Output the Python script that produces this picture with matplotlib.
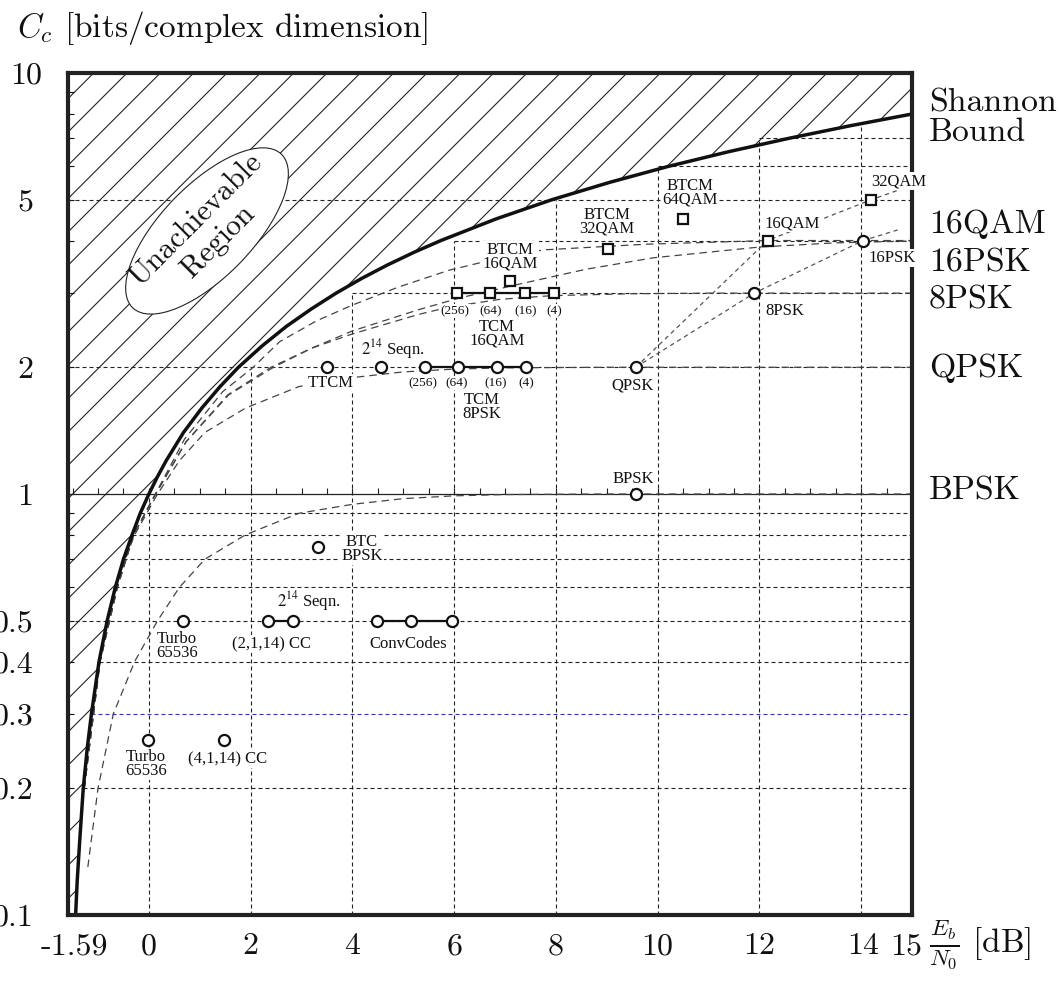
import numpy as np
import matplotlib
matplotlib.use("Agg")
import matplotlib.pyplot as plt
from matplotlib.patches import Ellipse
import matplotlib.transforms as mtransforms

plt.rcParams['mathtext.fontset'] = 'cm'
plt.rcParams['font.family'] = ['cmr10', 'DejaVu Serif']
plt.rcParams['hatch.linewidth'] = 0.4
plt.rcParams['axes.unicode_minus'] = False

# ---------------- data ----------------
# Shannon bound: Eb/N0 [dB] vs capacity [bits/complex dim]
shannon_ebn0 = [-1.44, -1.41, -1.36, -1.29, -1.21, -1.13, -0.98, -0.82, -0.66, -0.50,
                -0.33, -0.17, 0.00, 0.17, 0.34, 0.68, 1.04, 1.40, 1.76, 2.23, 2.70,
                3.19, 3.68, 4.18, 4.69, 5.21, 5.74, 6.82, 7.92, 9.06, 10.21, 11.39,
                12.59, 13.80, 15.00]
shannon_cap = [0.10, 0.12, 0.15, 0.20, 0.25, 0.30, 0.40, 0.50, 0.60, 0.70, 0.80, 0.90,
               1.00, 1.10, 1.20, 1.40, 1.60, 1.80, 2.00, 2.25, 2.50, 2.75, 3.00, 3.25,
               3.50, 3.75, 4.00, 4.50, 5.00, 5.50, 6.00, 6.50, 7.00, 7.50, 7.99]

# constellation constrained capacity curves (dashed)
bpsk_ebn0 = [-1.20, -1.00, -0.70, -0.28, 0.17, 0.60, 1.10, 1.90, 2.95, 4.00, 5.00, 6.00, 7.00, 9.00, 15.00]
bpsk_cap = [0.13, 0.20, 0.30, 0.40, 0.50, 0.60, 0.70, 0.80, 0.90, 0.945, 0.975, 0.99, 0.997, 1.00, 1.00]

qpsk_ebn0 = [-1.20, -0.97, -0.68, -0.28, 0.17, 0.60, 1.10, 1.90, 2.95, 4.00, 5.00, 6.00, 7.00, 9.00, 15.00]
qpsk_cap = [0.26, 0.40, 0.60, 0.80, 1.00, 1.20, 1.40, 1.60, 1.80, 1.89, 1.95, 1.98, 1.994, 2.00, 2.00]

psk8_ebn0 = [-1.27, -0.96, -0.62, -0.30, 0.09, 0.73, 1.55, 2.40, 3.20, 4.00, 5.30, 5.90, 6.90, 7.94, 9.50, 11.0, 15.0]
psk8_cap = [0.20, 0.40, 0.60, 0.80, 0.98, 1.33, 1.72, 2.00, 2.22, 2.40, 2.67, 2.78, 2.90, 2.96, 2.99, 3.0, 3.0]

psk16_ebn0 = [-1.27, -0.96, -0.62, -0.30, 0.09, 0.73, 1.57, 2.45, 3.20, 4.00, 5.30, 6.10, 7.37, 8.60, 9.92, 12.0, 13.5, 15.0]
psk16_cap = [0.20, 0.40, 0.60, 0.80, 0.98, 1.33, 1.72, 2.00, 2.22, 2.44, 2.74, 2.92, 3.17, 3.42, 3.64, 3.86, 3.95, 3.99]

qam16_ebn0 = [-1.27, -0.96, -0.62, -0.30, 0.09, 0.70, 1.45, 2.05, 2.57, 3.30, 4.00, 4.90, 5.90, 6.50, 7.75, 9.76, 12.16, 15.0]
qam16_cap = [0.20, 0.40, 0.60, 0.80, 0.98, 1.35, 1.75, 2.00, 2.30, 2.58, 2.81, 3.10, 3.40, 3.54, 3.80, 3.92, 4.0, 4.0]

# uncoded reference points joined by fine dashed lines
psk_path_ebn0 = [9.57, 11.90, 14.04, 14.75]
psk_path_cap = [2.0, 3.0, 4.0, 4.25]
qam_path_ebn0 = [9.57, 12.16, 14.20, 14.75]
qam_path_cap = [2.0, 4.0, 5.0, 5.28]

# coded systems
tcm8psk_ebn0 = [5.43, 6.08, 6.84, 7.41]
tcm8psk_cap = [2.0, 2.0, 2.0, 2.0]
tcm16qam_ebn0 = [6.06, 6.71, 7.39, 7.96]
tcm16qam_cap = [3.0, 3.0, 3.0, 3.0]
conv_ebn0 = [4.49, 5.16, 5.96]
conv_cap = [0.5, 0.5, 0.5]
cc2114_ebn0 = [2.35, 2.84]
cc2114_cap = [0.5, 0.5]

single_circ_ebn0 = [3.51, 4.57, 0.67, -0.02, 1.47, 3.33, 9.57, 9.57, 11.90, 14.04]
single_circ_cap = [2.0, 2.0, 0.5, 0.26, 0.26, 0.75, 2.0, 1.0, 3.0, 4.0]
single_sq_ebn0 = [7.10, 9.02, 10.50, 12.16, 14.20]
single_sq_cap = [3.2, 3.82, 4.5, 4.0, 5.0]

# grid
vgrid_x = [0, 2, 4, 6, 8, 10, 12, 14]
vgrid_top = [1, 2, 3, 4, 5, 6, 7, 7.55]
hgrid_cap = [0.2, 0.3, 0.4, 0.5, 0.6, 0.7, 0.8, 0.9, 2, 3, 4, 5, 6, 7]
hgrid_start = [-1.29, -1.13, -0.98, -1.59, -0.66, -0.50, -0.33, -0.17, -1.59, 4, 6, -1.59, 10, 12]

xtick_vals = [-1.59, 0, 2, 4, 6, 8, 10, 12, 14, 15]
xtick_labels = ['-1.59', '0', '2', '4', '6', '8', '10', '12', '14', '15']
ytick_vals = [0.1, 0.2, 0.3, 0.4, 0.5, 1, 2, 5, 10]
ytick_labels = ['0.1', '0.2', '0.3', '0.4', '0.5', '1', '2', '5', '10']
yminor_vals = [0.6, 0.7, 0.8, 0.9, 3, 4, 6, 7, 8, 9]

# ---------------- figure ----------------
W, H, DPI = 1061, 982, 200
fig = plt.figure(figsize=(W / DPI, H / DPI), dpi=DPI)
ax = fig.add_axes([68 / W, 1 - 915 / H, (912 - 68) / W, (915 - 73) / H])
ax.set_yscale('log')
ax.set_xlim(-1.59, 15)
ax.set_ylim(0.1, 10)

# hatched unachievable region
ax.fill_betweenx(shannon_cap + [10], -1.59, shannon_ebn0 + [15], facecolor='none',
                 edgecolor='#222222', linewidth=0, hatch='//', zorder=1)

# grid lines
gdash = (0, (3.6, 2.7))
ax.vlines(vgrid_x, 0.1, vgrid_top, colors='#222222', linestyles=gdash, linewidth=0.4, zorder=2)
hcols = ['#3333aa' if c == 0.3 else '#222222' for c in hgrid_cap]
ax.hlines(hgrid_cap, hgrid_start, 15, colors=hcols, linestyles=gdash, linewidth=0.4, zorder=2)
ax.hlines([1.0], -1.59, 15, colors='#222222', linewidth=0.45, zorder=2)
# small ticks along the C = 1 line
ax.vlines(np.arange(-1.5, 15, 0.5), 1.0, 1.035, colors='#222222', linewidth=0.4, zorder=2)

# capacity curves
cdash = (0, (6.0, 4.0))
for xs, cs in [(bpsk_ebn0, bpsk_cap), (qpsk_ebn0, qpsk_cap), (psk8_ebn0, psk8_cap),
               (psk16_ebn0, psk16_cap), (qam16_ebn0, qam16_cap)]:
    ax.plot(xs, cs, color='#444444', linestyle=cdash, linewidth=0.45, zorder=3)

fdash = (0, (3.5, 3.0))
ax.plot(psk_path_ebn0, psk_path_cap, color='#555555', linestyle=fdash, linewidth=0.45, zorder=3)
ax.plot(qam_path_ebn0, qam_path_cap, color='#555555', linestyle=fdash, linewidth=0.45, zorder=3)

# Shannon bound
ax.plot(shannon_ebn0, shannon_cap, color='#111111', linewidth=1.25, zorder=4,
        solid_capstyle='butt')

# ellipse with text
ell = Ellipse((0.1647, 0.8124), 0.2536, 0.109, angle=46, transform=ax.transAxes,
              facecolor='white', edgecolor='#222222', linewidth=0.4, zorder=5)
ax.add_patch(ell)
ax.text(0.1647, 0.8124, 'Unachievable\nRegion', transform=ax.transAxes, rotation=45,
        ha='center', va='center', fontsize=10.8, rotation_mode='anchor',
        linespacing=1.15, zorder=6, color='#111111')

# labels (figure pixel coordinates of the reference)
def ftxt(s, px, py, size=6.0, **kw):
    ax.text(px / W, 1 - py / H, s, transform=fig.transFigure, ha='center', va='center',
            fontsize=size, family='Liberation Serif', math_fontfamily='stix',
            linespacing=0.8, color='#111111', zorder=6, clip_on=False,
            bbox=dict(facecolor='white', edgecolor='none', pad=0.4), **kw)

small, tiny = 6.0, 4.8
ftxt('Turbo\n65536', 177, 646, small)
ftxt('(2,1,14) CC', 272, 644, small)
ftxt('$2^{14}$ Seqn.', 309, 601, small)
ftxt('ConvCodes', 408, 644, small)
ftxt('Turbo\n65536', 146, 764, small)
ftxt('(4,1,14) CC', 228, 759, small)
ftxt('BTC\nBPSK', 362, 549, small)
ftxt('TTCM', 331, 383, small)
ftxt('$2^{14}$ Seqn.', 393, 349, small)
for s, px in zip(['(256)', '(64)', '(16)', '(4)'], [423, 457, 496, 526]):
    ftxt(s, px, 383, tiny)
ftxt('TCM\n8PSK', 482, 407, small)
for s, px in zip(['(256)', '(64)', '(16)', '(4)'], [455, 491, 526, 554]):
    ftxt(s, px, 311, tiny)
ftxt('TCM\n16QAM', 497, 334, small)
ftxt('BTCM\n16QAM', 510, 257, small)
ftxt('BTCM\n32QAM', 607, 222, small)
ftxt('BTCM\n64QAM', 690, 193, small)
ftxt('16QAM', 792, 223, small)
ftxt('32QAM', 899, 181, small)
ftxt('16PSK', 892, 258, small)
ftxt('8PSK', 785, 311, small)
ftxt('QPSK', 633, 385, small)
ftxt('BPSK', 633, 479, small)

# connected coded systems and markers
mk = dict(markerfacecolor='white', markeredgecolor='#111111', markeredgewidth=0.8, zorder=8)
ax.plot(tcm8psk_ebn0, tcm8psk_cap, '-o', color='#111111', linewidth=0.8, markersize=4.0, **mk)
ax.plot(conv_ebn0, conv_cap, '-o', color='#111111', linewidth=0.8, markersize=4.0, **mk)
ax.plot(cc2114_ebn0, cc2114_cap, '-o', color='#111111', linewidth=0.8, markersize=4.0, **mk)
ax.plot(tcm16qam_ebn0, tcm16qam_cap, '-s', color='#111111', linewidth=0.8, markersize=3.3, **mk)
ax.plot(single_circ_ebn0, single_circ_cap, 'o', linestyle='none', markersize=4.0, **mk)
ax.plot(single_sq_ebn0, single_sq_cap, 's', linestyle='none', markersize=3.3, **mk)

# right side labels
for s, py in [('Shannon', 103), ('Bound', 132), ('16QAM', 224), ('16PSK', 263),
              ('8PSK', 300), ('QPSK', 368), ('BPSK', 491)]:
    fig.text(929 / W, 1 - py / H, s, ha='left', va='center', fontsize=12.2, color='#111111')

# axes frame and ticks
for sp in ax.spines.values():
    sp.set_linewidth(1.5)
    sp.set_color('#222222')
    sp.set_zorder(5.5)

ax.set_xticks(xtick_vals)
ax.set_xticklabels(xtick_labels)
ax.set_yticks(ytick_vals)
ax.set_yticklabels(ytick_labels)
ax.set_yticks(yminor_vals, minor=True)
ax.yaxis.set_minor_formatter(matplotlib.ticker.NullFormatter())
ax.xaxis.set_minor_locator(matplotlib.ticker.NullLocator())
ax.tick_params(axis='x', which='both', length=0, pad=6.5, labelsize=11.5, colors='#111111')
ax.tick_params(axis='y', which='both', direction='in', length=2.0, width=0.4,
               pad=12.6, labelsize=11.5, colors='#111111')

for lab, dx in zip(ax.get_xticklabels(), [6, 0, 0, 0, 0, 0, 0, 0, 2, -6]):
    lab.set_transform(lab.get_transform() + mtransforms.ScaledTranslation(dx / DPI, 0, fig.dpi_scale_trans))
for lab, dx in zip(ax.get_yticklabels(), [0, 0, 0, 0, 0, 0, 0, 0, 9]):
    lab.set_transform(lab.get_transform() + mtransforms.ScaledTranslation(dx / DPI, 0, fig.dpi_scale_trans))

# axis titles
fig.text(17 / W, 1 - 28 / H, r'$C_c$ [bits/complex dimension]', ha='left', va='center',
         fontsize=12, color='#111111')
fig.text(929 / W, 1 - 945 / H, r'$\frac{E_b}{N_0}$ [dB]', ha='left', va='center',
         fontsize=12, color='#111111')

fig.savefig('out.png', dpi=DPI, facecolor='white')
